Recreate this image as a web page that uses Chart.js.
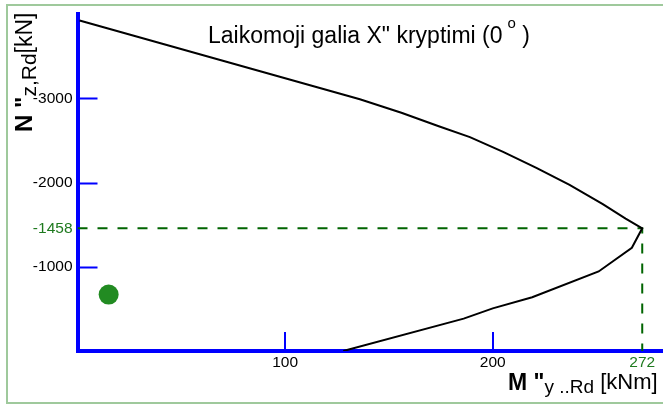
<!DOCTYPE html>
<html>
<head>
<meta charset="utf-8">
<title>Laikomoji galia</title>
<script src="https://cdn.jsdelivr.net/npm/chart.js@4.4.0/dist/chart.umd.min.js"></script>
<style>
    body { margin: 0; background: #fff; }
    #wrap { position: relative; width: 663px; height: 405px; }
    canvas { display: block; }
</style>
</head>
<body>
<div id="wrap"><canvas id="nmChart" width="663" height="405"></canvas></div>
<script>
// N-M saveikos kreive (M, kNm / N, kN)
const curveM = [1, 136, 156, 174, 189, 205, 221, 237, 253, 264, 272, 267, 251, 219, 200, 186, 128];
const curveN = [-3926, -2990, -2830, -2670, -2541, -2365, -2176, -1973, -1745, -1573, -1458, -1227, -945, -639, -506, -385, 0];

// apkrovos taskas
const loadM = [15];
const loadN = [-670];

// maksimalaus momento taskas
const peakM = 272;
const peakN = -1458;

const xTicks = [100, 200, 272];
const yTicks = [-3000, -2000, -1458, -1000];

const FONT = '"Liberation Sans", Arial, sans-serif';
const BLUE = '#0000ff';
const GREEN_TXT = '#1f7a1f';
const GREEN_DASH = '#006400';

// teksto gabalai su apatiniais indeksais
function drawRuns(ctx, runs, x, y) {
    let cx = x;
    runs.forEach(r => {
        ctx.font = r.font;
        ctx.fillText(r.text, cx, y + (r.dy || 0));
        cx += ctx.measureText(r.text).width + (r.gap || 0);
    });
}

const decorPlugin = {
    id: 'decor',
    beforeDraw(chart) {
        const ctx = chart.ctx;
        ctx.save();
        ctx.fillStyle = '#fff';
        ctx.fillRect(0, 0, chart.width, chart.height);
        ctx.strokeStyle = '#9fc99c';
        ctx.lineWidth = 2;
        ctx.strokeRect(7, 5, 700, 398);
        ctx.restore();
    },
    afterDraw(chart) {
        const ctx = chart.ctx;
        const xs = chart.scales.x;
        const ys = chart.scales.y;
        const left = chart.chartArea.left;
        const bottom = chart.chartArea.bottom;

        ctx.save();
        // vidines padalos
        ctx.strokeStyle = BLUE;
        ctx.lineWidth = 2;
        ctx.beginPath();
        yTicks.filter(v => v !== peakN).forEach(v => {
            const py = Math.round(ys.getPixelForValue(v)) + 0.5;
            ctx.moveTo(left, py);
            ctx.lineTo(left + 20, py);
        });
        xTicks.filter(v => v !== peakM).forEach(v => {
            const px = Math.round(xs.getPixelForValue(v));
            ctx.moveTo(px, bottom);
            ctx.lineTo(px, bottom - 19);
        });
        ctx.stroke();

        ctx.fillStyle = '#000';
        ctx.textBaseline = 'alphabetic';
        ctx.textAlign = 'left';

        // pavadinimas
        drawRuns(ctx, [
            { text: 'Laikomoji galia X" kryptimi (0', font: '23px ' + FONT, gap: 5 },
            { text: 'o', font: '15px ' + FONT, dy: -15 },
            { text: ' )', font: '23px ' + FONT }
        ], 208, 43);

        // x asies pavadinimas
        drawRuns(ctx, [
            { text: 'M "', font: 'bold 23px ' + FONT },
            { text: 'y ..Rd', font: '19px ' + FONT, dy: 3 },
            { text: ' [kNm]', font: '22px ' + FONT, dy: -1 }
        ], 508, 390);

        // y asies pavadinimas
        ctx.translate(32, 132);
        ctx.rotate(-Math.PI / 2);
        drawRuns(ctx, [
            { text: 'N "', font: 'bold 24px ' + FONT },
            { text: 'z,Rd', font: '21px ' + FONT, dy: 4 },
            { text: '[kN]', font: '23px ' + FONT }
        ], 0, 0);
        ctx.restore();
    }
};

const ctx = document.getElementById('nmChart').getContext('2d');
const chart = new Chart(ctx, {
    type: 'line',
    data: {
        datasets: [
            {
                label: 'N-M',
                data: curveM.map((m, i) => ({ x: m, y: curveN[i] })),
                borderColor: '#000',
                borderWidth: 2,
                pointRadius: 0,
                tension: 0,
                fill: false
            },
            {
                label: 'Mmax',
                data: [{ x: 0, y: peakN }, { x: peakM, y: peakN }, { x: peakM, y: 0 }],
                borderColor: GREEN_DASH,
                borderWidth: 2,
                borderDash: [10, 10],
                pointRadius: 0,
                tension: 0,
                fill: false
            },
            {
                type: 'scatter',
                label: 'Apkrova',
                data: loadM.map((m, i) => ({ x: m, y: loadN[i] })),
                backgroundColor: '#228b22',
                borderWidth: 0,
                pointRadius: 10
            }
        ]
    },
    options: {
        responsive: false,
        animation: false,
        layout: { padding: { left: 0, top: 11, right: 0, bottom: 0 }, autoPadding: false },
        plugins: {
            legend: { display: false },
            tooltip: { enabled: false },
            title: { display: false }
        },
        scales: {
            x: {
                type: 'linear',
                position: 'bottom',
                min: 0,
                max: 282,
                z: 1,
                grid: { drawOnChartArea: false, drawTicks: false },
                border: { display: true, color: BLUE, width: 4 },
                afterBuildTicks: s => { s.ticks = xTicks.map(v => ({ value: v })); },
                afterFit: s => { s.height = 54; },
                ticks: {
                    autoSkip: false,
                    maxRotation: 0,
                    padding: 2,
                    font: { family: FONT, size: 15.5 },
                    color: c => (c.tick && c.tick.value === peakM ? GREEN_TXT : '#000'),
                    callback: v => String(v)
                }
            },
            y: {
                type: 'linear',
                position: 'left',
                reverse: true,
                min: -4000,
                max: 0,
                z: 1,
                grid: { drawOnChartArea: false, drawTicks: false },
                border: { display: true, color: BLUE, width: 4 },
                afterBuildTicks: s => { s.ticks = yTicks.map(v => ({ value: v })); },
                afterFit: s => { s.width = 77.5; },
                ticks: {
                    autoSkip: false,
                    padding: 5,
                    font: { family: FONT, size: 15.5 },
                    color: c => (c.tick && c.tick.value === peakN ? GREEN_TXT : '#000'),
                    callback: v => String(v)
                }
            }
        }
    },
    plugins: [decorPlugin]
});
</script>
</body>
</html>
